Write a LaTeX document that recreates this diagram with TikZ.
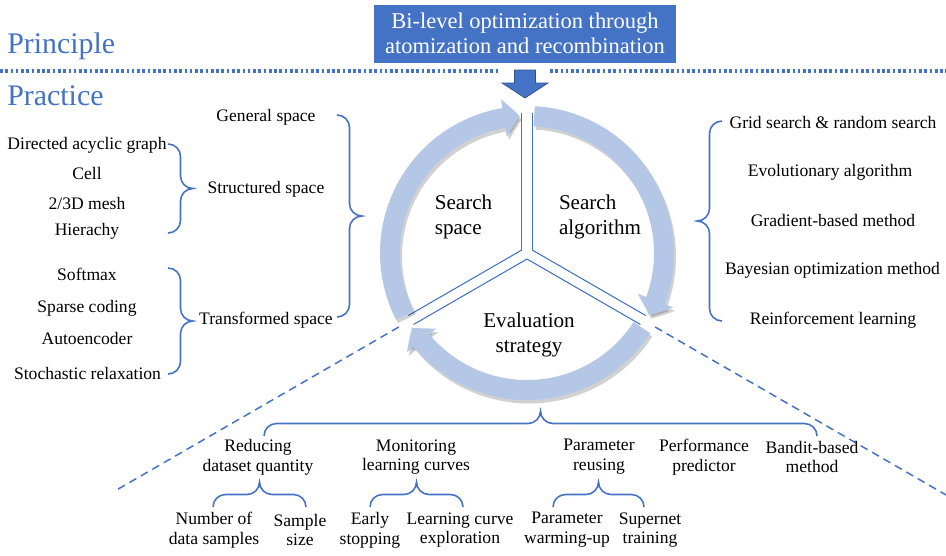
\documentclass[tikz,border=0pt]{standalone}
\usepackage{fontspec}
\setmainfont{Liberation Serif}
\usetikzlibrary{arrows.meta,bending,calc}
\definecolor{pptblue}{HTML}{4472C4}
\definecolor{ringblue}{HTML}{B4C7E7}
\definecolor{arrowedge}{HTML}{2F528F}
\newcommand\bracer{0.25cm}

\begin{document}
\begin{tikzpicture}[
    lbl/.style={font=\fontsize{10}{11.3}\selectfont, align=center, inner sep=0pt},
    core/.style={font=\fontsize{12}{14.6}\selectfont, align=left, inner sep=0pt},
    heading/.style={font=\fontsize{17}{20}\selectfont, text=pptblue, anchor=base west, inner sep=0pt},
    curly/.style={draw=pptblue, line width=0.9pt,
        to path={let \p1=($(\tikztotarget)-(\tikztostart)$), \n1={atan2(\y1,\x1)}, \n2={veclen(\x1,\y1)} in
            arc[start angle={\n1+180}, end angle={\n1+90}, radius=\bracer]
            -- ++(\n1:{\n2*0.5pt-2*\bracer})
            arc[start angle={\n1-90}, end angle={\n1}, radius=\bracer]
            arc[start angle={\n1-180}, end angle={\n1-90}, radius=\bracer]
            -- ++(\n1:{\n2*0.5pt-2*\bracer})
            arc[start angle={\n1+90}, end angle={\n1}, radius=\bracer]}},
    sector/.style={draw=pptblue, line width=0.6pt},
    ringarrow/.style={draw=ringblue, line width=0.4cm, -{Triangle[bend, width=0.74cm, length=0.32cm]}},
    ringshade/.style={ringarrow, draw=black, opacity=0.18, transform canvas={shift={(0.04,-0.07)}}},
    rayline/.style={draw=pptblue, line width=0.85pt, dash pattern=on 4.5pt off 3pt},
    sepline/.style={draw=pptblue, line width=1.8pt, dash pattern=on 1.5pt off 1.5pt}
]
    \useasboundingbox (0,0) rectangle (18.920000,11.100000);
    {\fontsize{10}{11.3}\selectfont

    % Headings of the two levels
    \node[heading] (principlehead) at (0.140000,10.040000) {Principle};%
    \node[heading] (practicehead) at (0.140000,9.000000) {Practice};%

    % Dotted separator between principle and practice
    \coordinate (sepa) at (0.000000,9.680000);%
    \coordinate (sepb) at (10.000000,9.680000);%
    \coordinate (sepc) at (11.000000,9.680000);%
    \coordinate (sepd) at (18.920000,9.680000);%
    \draw[sepline] (sepa) -- (sepb);%
    \draw[sepline] (sepc) -- (sepd);%

    % Principle box
    \node[fill=pptblue, text=white, minimum width=6.040000cm, minimum height=1.160000cm,
          font=\fontsize{12.8}{14.4}\selectfont, align=center] (bilevel) at (10.500000,10.430000)
          {Bi-level optimization through\\atomization and recombination};%

    % Block arrow down to the cycle
    \filldraw[fill=pptblue, draw=arrowedge, line width=0.4pt] (10.290000,9.700000) -- (10.710000,9.700000)
        -- (10.710000,9.440000) -- (10.960000,9.440000) -- (10.500000,9.140000)
        -- (10.040000,9.440000) -- (10.290000,9.440000) -- cycle;%

    % Centre of the cycle
    \coordinate (ctr) at (10.540000,6.040000);%

    % Dashed rays out of the cycle
    \draw[rayline] ([shift={(210:2.960000)}]ctr) -- ([shift={(210:9.460000)}]ctr);%
    \draw[rayline] ([shift={(330:2.960000)}]ctr) -- ([shift={(330:9.700000)}]ctr);%

    % Drawing the three sector edges
    \draw[sector] ([shift={(150:0.120000)}]ctr) -- ++(90:2.740000);%
    \draw[sector] ([shift={(150:0.120000)}]ctr) -- ++(210:2.620000);%
    \draw[sector] ([shift={(30:0.120000)}]ctr) -- ++(90:2.740000);%
    \draw[sector] ([shift={(30:0.120000)}]ctr) -- ++(330:2.620000);%
    \draw[sector] ([shift={(270:0.120000)}]ctr) -- ++(210:2.620000);%
    \draw[sector] ([shift={(270:0.120000)}]ctr) -- ++(330:2.620000);%

    % Drawing the ring of arrows, shadow first
    \foreach \from/\to in {207/93, 87/-27, -33/-147}
        \draw[ringshade] ([shift={(\from:2.740000)}]ctr) arc[start angle=\from, end angle=\to, radius=2.740000];%
    \foreach \from/\to in {207/93, 87/-27, -33/-147}
        \draw[ringarrow] ([shift={(\from:2.740000)}]ctr) arc[start angle=\from, end angle=\to, radius=2.740000];%

    % Labels of the three parts
    \node[core] (space) at (9.270000,6.760000) {Search\\space};%
    \node[core] (algorithm) at (12.000000,6.760000) {Search\\algorithm};%
    \node[core, align=center] (evaluation) at (10.580000,4.400000) {Evaluation\\strategy};%

    % Marking the kinds of search space
    \node[lbl] (dag) at (1.740000,8.200000) {Directed acyclic graph};%
    \node[lbl] (cell) at (1.740000,7.640000) {Cell};%
    \node[lbl] (mesh) at (1.740000,7.040000) {2/3D mesh};%
    \node[lbl] (hierachy) at (1.740000,6.480000) {Hierachy};%
    \node[lbl] (softmax) at (1.740000,5.620000) {Softmax};%
    \node[lbl] (sparse) at (1.740000,4.940000) {Sparse coding};%
    \node[lbl] (autoenc) at (1.740000,4.340000) {Autoencoder};%
    \node[lbl] (stochastic) at (1.750000,3.640000) {Stochastic relaxation};%
    \node[lbl] (general) at (5.320000,8.760000) {General space};%
    \node[lbl] (structured) at (5.320000,7.320000) {Structured space};%
    \node[lbl] (transformed) at (5.320000,4.700000) {Transformed space};%

    % Drawing braces of the search space
    \coordinate (structa) at (3.360000,8.220000);%
    \coordinate (structb) at (3.360000,6.440000);%
    \coordinate (transa) at (3.360000,5.740000);%
    \coordinate (transb) at (3.360000,3.620000);%
    \coordinate (spacea) at (6.740000,8.800000);%
    \coordinate (spaceb) at (6.740000,4.760000);%
    \draw[curly] (structa) to (structb);%
    \draw[curly] (transa) to (transb);%
    \draw[curly] (spacea) to (spaceb);%

    % Marking the search algorithms
    \node[lbl] (grid) at (16.660000,8.660000) {Grid search \& random search};%
    \node[lbl] (evolution) at (16.600000,7.660000) {Evolutionary algorithm};%
    \node[lbl] (gradient) at (16.660000,6.700000) {Gradient-based method};%
    \node[lbl] (bayes) at (16.650000,5.700000) {Bayesian optimization method};%
    \node[lbl] (reinforce) at (16.660000,4.700000) {Reinforcement learning};%

    % Drawing brace of the search algorithms
    \coordinate (algoa) at (14.440000,4.680000);%
    \coordinate (algob) at (14.440000,8.680000);%
    \draw[curly] (algoa) to (algob);%

    % Marking the evaluation strategies
    \node[lbl] (reducing) at (5.160000,1.960000) {Reducing\\dataset quantity};%
    \node[lbl] (monitoring) at (8.320000,1.960000) {Monitoring\\learning curves};%
    \node[lbl] (reusing) at (11.980000,1.960000) {Parameter\\reusing};%
    \node[lbl] (predictor) at (14.080000,1.960000) {Performance\\predictor};%
    \node[lbl] (bandit) at (16.240000,1.960000) {Bandit-based\\method};%
    \node[lbl] (number) at (4.280000,0.500000) {Number of\\data samples};%
    \node[lbl] (size) at (6.000000,0.500000) {Sample\\size};%
    \node[lbl] (early) at (7.400000,0.500000) {Early\\stopping};%
    \node[lbl] (curve) at (9.200000,0.500000) {Learning curve\\exploration};%
    \node[lbl] (warming) at (11.340000,0.500000) {Parameter\\warming-up};%
    \node[lbl] (supernet) at (13.000000,0.500000) {Supernet\\training};%

    % Drawing braces of the evaluation strategies
    \coordinate (evala) at (5.280000,2.380000);%
    \coordinate (evalb) at (16.340000,2.380000);%
    \coordinate (reduca) at (4.260000,0.960000);%
    \coordinate (reducb) at (6.120000,0.960000);%
    \coordinate (monia) at (7.400000,0.960000);%
    \coordinate (monib) at (9.260000,0.960000);%
    \coordinate (reusea) at (11.060000,0.960000);%
    \coordinate (reuseb) at (12.880000,0.960000);%
    \draw[curly] (evala) to (evalb);%
    \draw[curly] (reduca) to (reducb);%
    \draw[curly] (monia) to (monib);%
    \draw[curly] (reusea) to (reuseb);%
    }
\end{tikzpicture}
\end{document}
